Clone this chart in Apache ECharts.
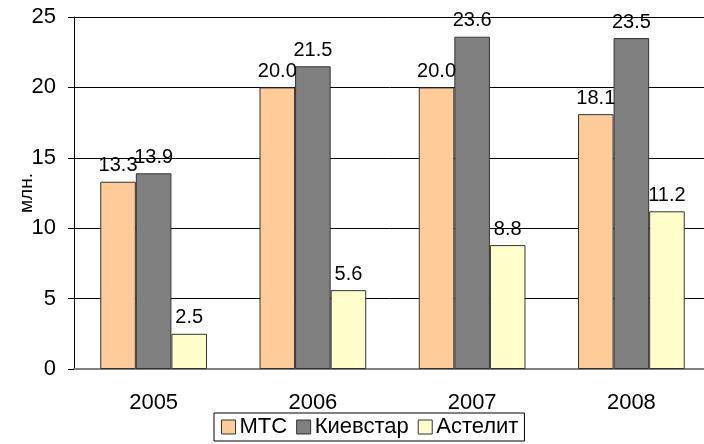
<!DOCTYPE html>
<html>
<head>
<meta charset="utf-8">
<script src="https://cdn.jsdelivr.net/npm/echarts@6/dist/echarts.min.js"></script>
<style>
  html, body { margin: 0; padding: 0; background: #fff; }
  #chart { width: 704px; height: 444px; }
</style>
</head>
<body>
<div id="chart"></div>
<script>
const years = ['2005', '2006', '2007', '2008']
const mts = [13.3, 20.0, 20.0, 18.1]
const kyivstar = [13.9, 21.5, 23.6, 23.5]
const astelit = [2.5, 5.6, 8.8, 11.2]
const seriesNames = ['МТС', 'Киевстар', 'Астелит']
const seriesColors = ['#ffcc99', '#808080', '#ffffcc']

const font = '"Liberation Sans", Arial, sans-serif'

const chart = echarts.init(document.getElementById('chart'))

function makeSeries(name, data, color) {
  return {
    name: name,
    type: 'bar',
    data: data,
    barGap: '0%',
    barCategoryGap: '33%',
    itemStyle: {
      color: color,
      borderColor: '#333',
      borderWidth: 1
    },
    label: {
      show: true,
      position: 'top',
      distance: 6,
      color: '#000',
      fontFamily: font,
      fontSize: 20,
      formatter: p => p.value.toFixed(1)
    }
  }
}

const option = {
  animation: false,
  grid: {
    left: 74,
    top: 17,
    right: -7,
    bottom: 75,
    containLabel: false,
    outerBoundsMode: 'none'
  },
  legend: {
    data: seriesNames,
    bottom: 3,
    left: 214,
    icon: 'rect',
    itemWidth: 14,
    itemHeight: 14,
    itemGap: 9,
    padding: [3, 6, 3, 7],
    borderColor: '#000',
    borderWidth: 1,
    textStyle: {
      color: '#000',
      fontFamily: font,
      fontSize: 22,
      padding: [0, 0, 0, -1]
    },
    itemStyle: {
      borderColor: '#333',
      borderWidth: 1
    }
  },
  xAxis: {
    type: 'category',
    data: years,
    axisLine: {
      lineStyle: { color: '#808080', width: 2 }
    },
    axisTick: {
      alignWithLabel: false,
      length: 6,
      lineStyle: { color: '#000' }
    },
    axisLabel: {
      color: '#000',
      fontFamily: font,
      fontSize: 22,
      margin: 23
    }
  },
  yAxis: {
    type: 'value',
    min: 0,
    max: 25,
    interval: 5,
    name: 'млн.',
    nameLocation: 'middle',
    nameRotate: 90,
    nameGap: 38,
    nameMoveOverlap: false,
    nameTextStyle: {
      color: '#000',
      fontFamily: font,
      fontSize: 19
    },
    axisLine: {
      show: true,
      lineStyle: { color: '#000' }
    },
    axisTick: {
      show: true,
      length: 6,
      lineStyle: { color: '#000' }
    },
    axisLabel: {
      color: '#000',
      fontFamily: font,
      fontSize: 22,
      margin: 18
    },
    splitLine: {
      lineStyle: { color: '#000', width: 1 }
    }
  },
  series: [
    makeSeries(seriesNames[0], mts, seriesColors[0]),
    makeSeries(seriesNames[1], kyivstar, seriesColors[1]),
    makeSeries(seriesNames[2], astelit, seriesColors[2])
  ]
}

chart.setOption(option)
window.addEventListener('resize', () => chart.resize())
</script>
</body>
</html>
